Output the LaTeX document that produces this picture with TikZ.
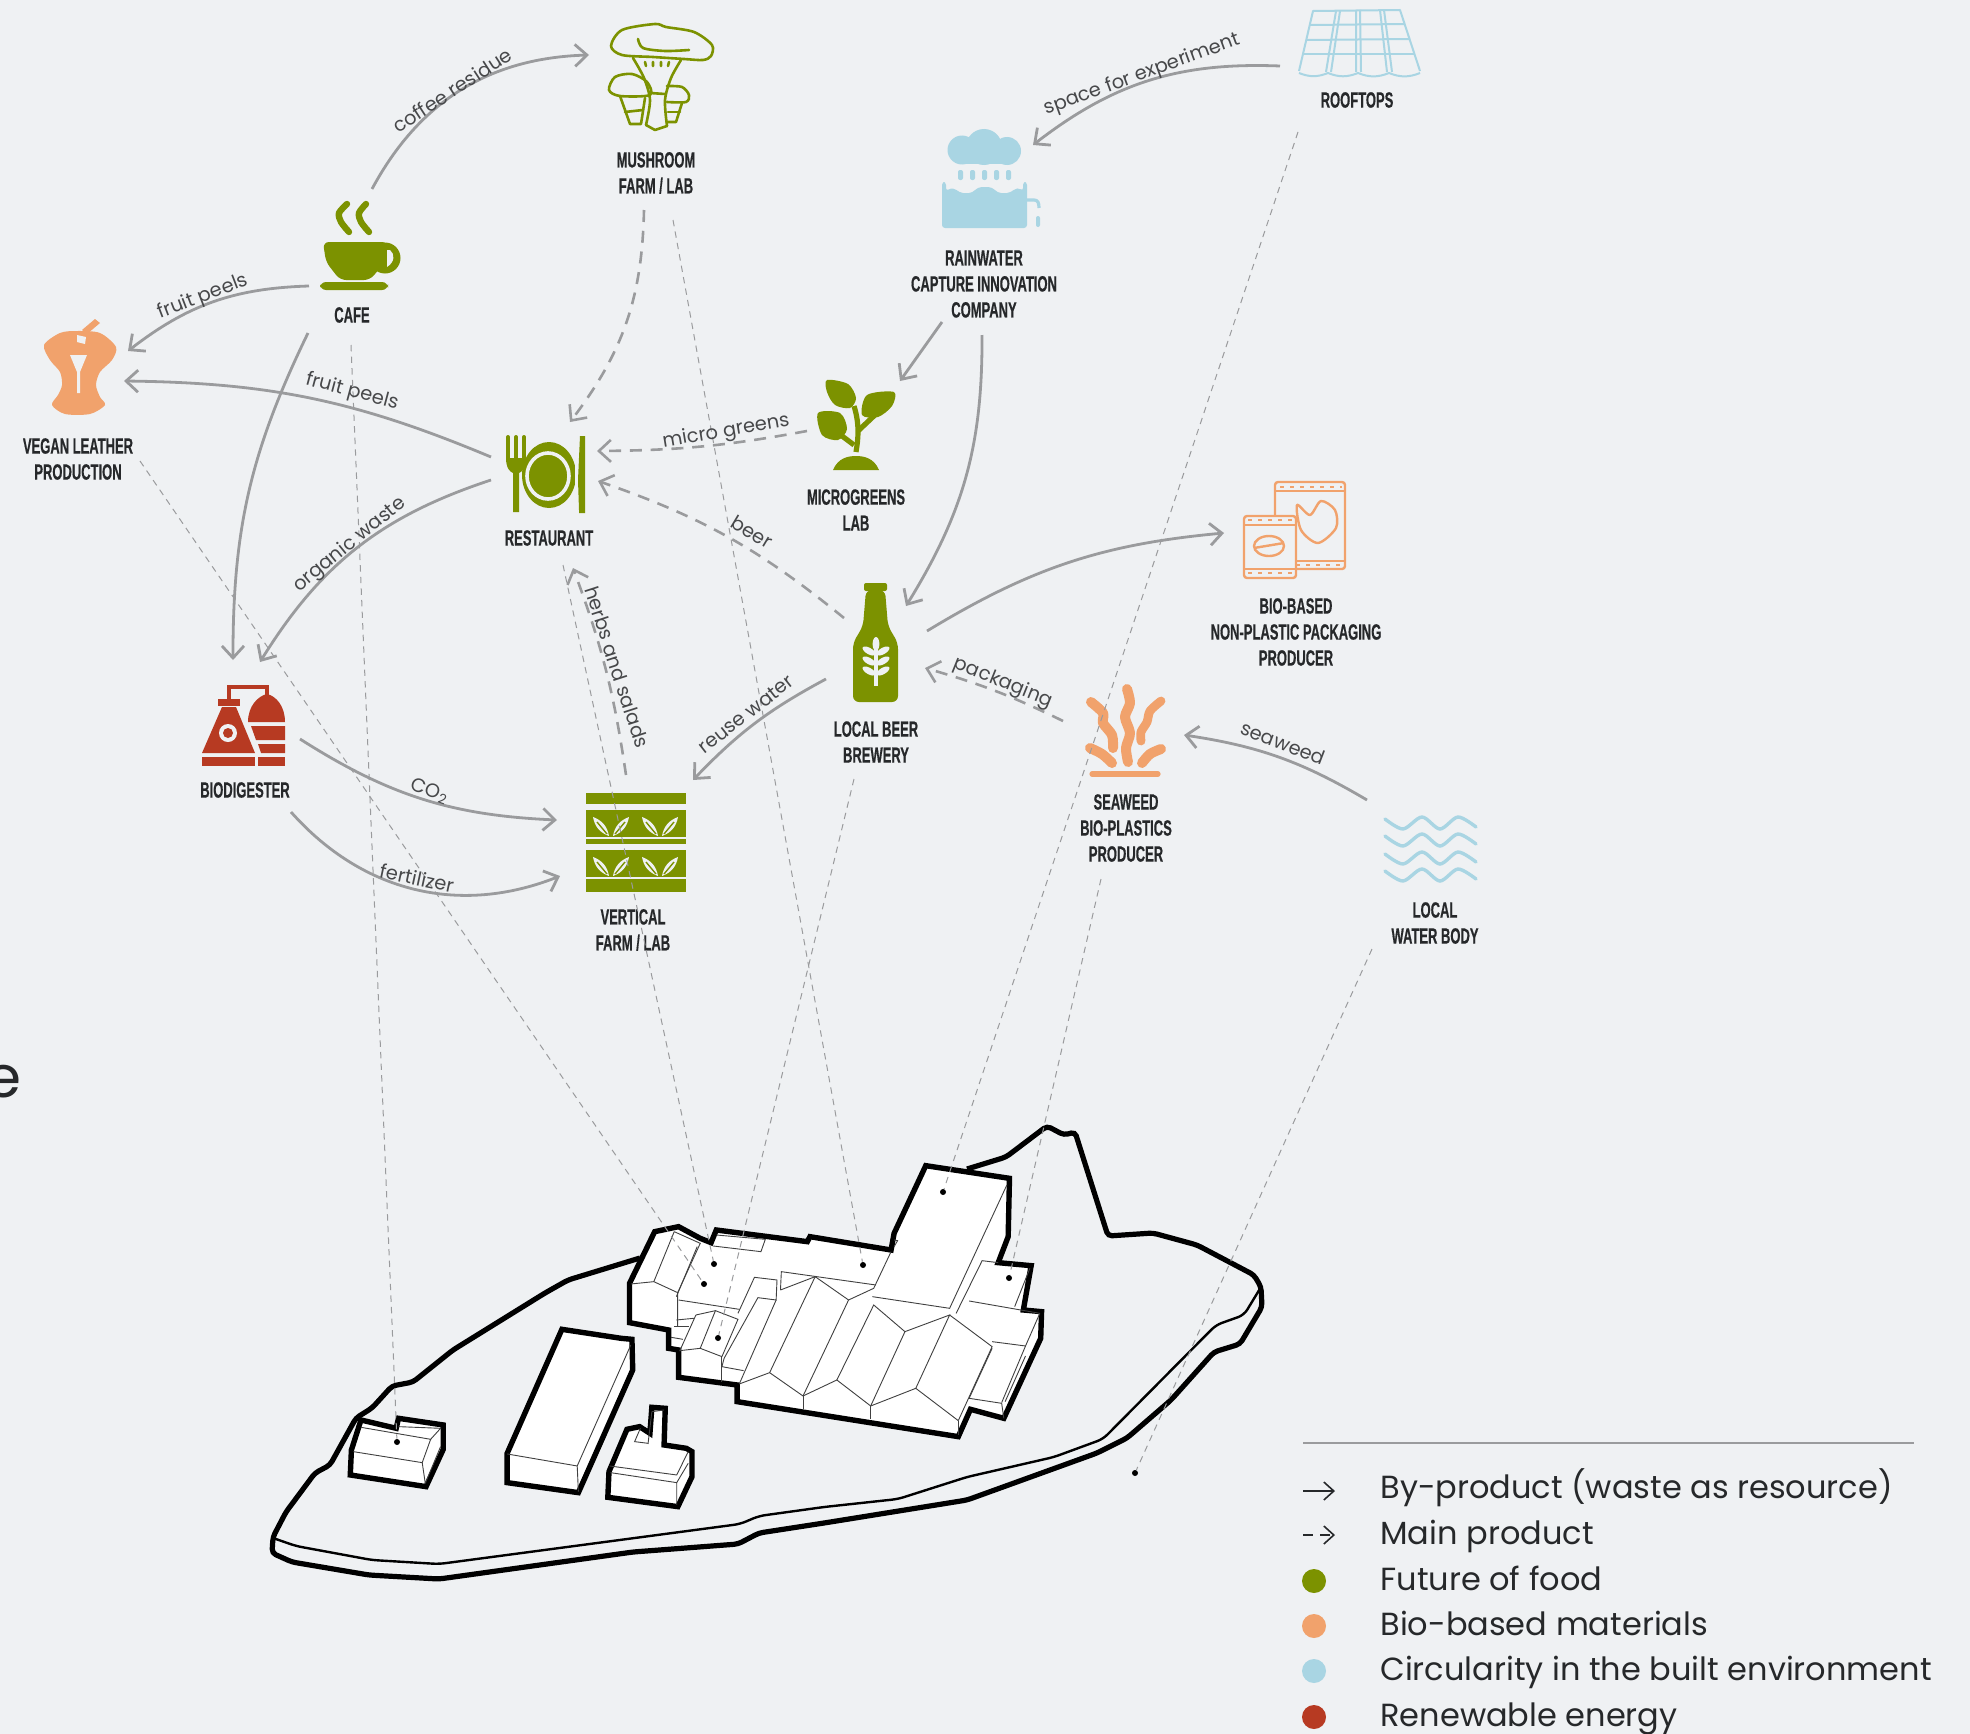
\documentclass[tikz,border=0pt]{standalone}
\usepackage{fontspec}
\setmainfont{Poppins}
\newfontfamily\capfont[FakeStretch=0.59,FakeBold=0.5]{Liberation Sans}
\usetikzlibrary{arrows.meta,positioning}
\definecolor{pagebg}{HTML}{EFF1F3}
\definecolor{foodgreen}{HTML}{7C9200}
\definecolor{bioorange}{HTML}{F1A26C}
\definecolor{builtblue}{HTML}{A9D5E3}
\definecolor{energyred}{HTML}{B73A22}
\definecolor{flowgray}{HTML}{9A9B9D}
\definecolor{inkdark}{HTML}{26282A}
\tikzset{
  caption/.style={font=\capfont\bfseries\fontsize{11}{13}\selectfont, text=inkdark, align=center, inner sep=0pt},
  flowtext/.style={font=\fontsize{9.7}{11}\selectfont, text=inkdark!85, inner sep=0pt},
  legendtext/.style={font=\fontsize{16}{18}\selectfont, text=inkdark, anchor=base west, inner sep=0pt},
  byproduct/.style={draw=flowgray, line width=1.4pt, -{Straight Barb[length=6pt,width=11pt]}},
  mainproduct/.style={draw=flowgray, line width=1.3pt, dash pattern=on 6pt off 4.4pt, -{Straight Barb[length=6pt,width=11pt,line width=1.3pt]}},
  sitelink/.style={draw=flowgray, line width=0.5pt, dash pattern=on 3.2pt off 2.6pt},
  pindot/.style={circle, fill=black, inner sep=0pt, minimum size=3pt},
  bldg/.style={draw=black, fill=white, line width=2.7pt, line join=miter},
  roofline/.style={draw=black!75, line width=0.45pt},
  swatch/.style={circle, inner sep=0pt, minimum size=12pt},
  outlinefood/.style={draw=foodgreen, line width=1.3pt, line join=round, line cap=round},
  outlinebio/.style={draw=bioorange, line width=1.2pt, line join=round},
  outlinebuilt/.style={draw=builtblue, line width=1pt, line join=round},
  frond/.style={draw=bioorange, line width=5pt, line cap=round, line join=round},
  waterline/.style={draw=builtblue, line width=1.7pt, line cap=round}
}
\newcommand{\farmleaf}[2]{%
  \fill[pagebg] (#1-2,#2) to[bend left=30] (#1-18,#2-19) to[bend left=30] cycle;
  \fill[pagebg] (#1+2,#2) to[bend right=30] (#1+18,#2-19) to[bend right=30] cycle;
  \draw[foodgreen, line width=0.7pt] (#1-4,#2-2) -- (#1-14,#2-14);
  \draw[foodgreen, line width=0.7pt] (#1+4,#2-2) -- (#1+14,#2-14);
}
\begin{document}
\begin{tikzpicture}[x=0.5pt,y=-0.5pt]
    \useasboundingbox (0,0) rectangle (1970,1734);
    \fill[pagebg] (0,0) rectangle (1970,1734);

    % Cropped word end on the left edge
    \node[anchor=base, inner sep=0pt, font=\fontsize{29}{34}\selectfont, text=inkdark] (cutword) at (3,1097) {e};

    % Island
    \draw[line width=2.6pt, rounded corners=2pt] (967,1169) -- (1006,1157) -- (1047,1126) -- (1064,1135) -- (1075,1132) -- (1108,1236) -- (1153,1233) -- (1197,1245) -- (1254,1275) -- (1261,1287) -- (1262,1307) -- (1240,1344) -- (1214,1352) -- (1171,1400) -- (1127,1438) -- (1097,1453) -- (967,1500) -- (824,1523) -- (759,1533) -- (738,1544) -- (633,1552) -- (439,1579) -- (369,1575) -- (292,1562) -- (272,1553) -- (273,1537) -- (286,1512) -- (315,1473) -- (330,1465) -- (356,1418) -- (372,1408) -- (392,1386) -- (413,1382) -- (453,1350) -- (545,1293) -- (568,1280) -- (640,1258);
    \draw[line width=1.2pt, rounded corners=3pt] (273,1538) -- (296,1546) -- (372,1560) -- (439,1564) -- (740,1524) -- (759,1516) -- (824,1507) -- (898,1499) -- (967,1477) -- (1054,1457) -- (1103,1439) -- (1216,1325) -- (1244,1315) -- (1261,1287);

    % Main complex
    \begin{scope}[shift={(620,1100)},xscale=0.4337,yscale=0.3333]
        \draw[bldg] (80,395) -- (135,380) -- (185,415) -- (210,428) -- (222,390) -- (432,425) -- (438,410) -- (625,450) -- (632,400) -- (705,197) -- (898,235) -- (895,410) -- (872,488) -- (948,497) -- (930,630) -- (972,635) -- (970,715) -- (885,955) -- (808,928) -- (780,1010) -- (270,905) -- (270,855) -- (135,832) -- (135,750) -- (112,745) -- (112,690) -- (22,668) -- (22,550) -- cycle;
        % left wing
        \draw[roofline] (125,395) -- (78,545) -- (25,552);
        \draw[roofline] (78,545) -- (133,578) -- (133,680);
        \draw[roofline] (125,395) -- (185,430) -- (133,578);
        \draw[roofline] (178,440) -- (130,590);
        \draw[roofline] (222,405) -- (335,418) -- (325,455) -- (215,438);
        \draw[roofline] (135,600) -- (275,628);
        % small gable
        \draw[roofline] (175,645) -- (220,632) -- (272,658) -- (235,770) -- (185,745) -- (138,752) -- (175,645);
        \draw[roofline] (220,632) -- (185,745);
        \draw[roofline] (235,770) -- (235,845);
        \draw[roofline] (130,660) -- (170,655);
        \draw[roofline] (125,680) -- (160,680);
        \draw[roofline] (118,712) -- (145,718);
        % middle bar
        \draw[roofline] (272,640) -- (310,532) -- (362,540) -- (360,600) -- (318,593) -- (240,775) -- (235,800) -- (285,812);
        \draw[roofline] (360,600) -- (275,852);
        % gables
        \draw[roofline] (275,852) -- (345,818) -- (422,888) -- (500,840) -- (578,918) -- (682,865) -- (780,962);
        \draw[roofline] (422,888) -- (422,928);
        \draw[roofline] (578,918) -- (578,958);
        \draw[roofline] (780,962) -- (780,1005);
        \draw[roofline] (345,818) -- (450,530) -- (527,600) -- (422,888);
        \draw[roofline] (527,600) -- (585,565) -- (625,455);
        \draw[roofline] (500,840) -- (585,615) -- (657,695) -- (578,918);
        \draw[roofline] (657,695) -- (760,645) -- (682,865);
        \draw[roofline] (760,645) -- (858,740) -- (780,962);
        \draw[roofline] (370,570) -- (372,515) -- (590,555);
        \draw[roofline] (370,570) -- (450,530);
        \draw[roofline] (582,590) -- (760,625) -- (892,255);
        \draw[roofline] (775,640) -- (835,482) -- (872,488);
        \draw[roofline] (945,505) -- (910,620);
        \draw[roofline] (805,603) -- (968,640);
        \draw[roofline] (858,725) -- (935,738) -- (968,640);
        \draw[roofline] (935,738) -- (880,908);
        \draw[roofline] (858,745) -- (805,895) -- (880,910) -- (885,955);
        \draw[roofline] (935,768) -- (888,905);
        \draw[roofline] (632,420) -- (640,422) -- (632,440);
    \end{scope}

    % Outbuildings
    \begin{scope}[shift={(250,1100)},xscale=0.3827,yscale=0.3333]
        \draw[bldg] (290,960) -- (382,985) -- (388,955) -- (505,975) -- (505,1048) -- (460,1160) -- (262,1125) -- (265,1050) -- cycle;
        \draw[roofline] (270,1055) -- (450,1088) -- (458,1150);
        \draw[roofline] (450,1088) -- (472,1018) -- (290,982);
        \draw[roofline] (472,1018) -- (498,985) -- (388,980);
        \draw[roofline] (498,1040) -- (458,1150);
        \draw[bldg] (815,688) -- (970,715) -- (998,718) -- (1000,810) -- (858,1178) -- (672,1148) -- (672,1060) -- cycle;
        \draw[roofline] (672,1062) -- (855,1098) -- (858,1175);
        \draw[roofline] (855,1098) -- (995,735);
        \draw[bldg] (985,988) -- (1018,980) -- (1045,1000) -- (1050,922) -- (1085,925) -- (1082,1035) -- (1140,1045) -- (1155,1055) -- (1155,1130) -- (1118,1220) -- (935,1192) -- (938,1115) -- cycle;
        \draw[roofline] (940,1098) -- (1115,1125) -- (1145,1055);
        \draw[roofline] (942,1118) -- (1115,1148) -- (1115,1215);
        \draw[roofline] (1145,1090) -- (1115,1148);
        \draw[roofline] (1020,985) -- (1005,1025) -- (1040,1030);
        \draw[roofline] (1050,935) -- (1082,930);
        \draw[roofline] (1050,935) -- (1040,1032);
    \end{scope}

    % Mushroom farm icon
    \draw[outlinefood] plot[smooth cycle] coordinates {(611,46) (622,30) (655,24) (666,27) (694,32) (712,45) (711,56) (703,60) (684,59) (653,57) (622,55)};
    \draw[outlinefood] plot[smooth] coordinates {(638,39) (643,48) (665,51) (689,50)};
    \draw[outlinefood] plot[smooth] coordinates {(633,58) (644,78) (650,100) (646,125)};
    \draw[outlinefood] plot[smooth] coordinates {(681,60) (671,78) (665,100) (667,126)};
    \draw[outlinefood] (646,125) -- (655,130) -- (667,126);
    \draw[outlinefood] plot[smooth cycle] coordinates {(609,90) (615,77) (632,74) (647,82) (650,95) (620,96)};
    \draw[outlinefood] (620,96) -- (630,124) -- (641,124) -- (645,98);
    \draw[outlinefood] (625,112) -- (643,110);
    \draw[outlinefood] plot[smooth] coordinates {(667,86) (682,87) (689,95) (686,102) (667,102)};
    \draw[outlinefood] (682,103) -- (676,122) -- (667,122);
    \draw[outlinefood] (668,112) -- (680,112);
    \draw[outlinefood] (645,62) -- (646,66) (653,62) -- (653,66) (661,62) -- (661,66) (669,62) -- (668,66);
    \draw[outlinefood] (650,93) -- (665,94);

    % Cafe icon
    \draw[foodgreen, line width=3.2pt, line cap=round] plot[smooth] coordinates {(347,204) (339,213) (341,222) (349,232)};
    \draw[foodgreen, line width=3.2pt, line cap=round] plot[smooth] coordinates {(366,204) (359,213) (361,222) (369,232)};
    \fill[foodgreen, rounded corners=3pt] (323,242) -- (388,242) -- (385,262) -- (370,280) -- (340,280) -- (326,262) -- cycle;
    \fill[foodgreen] (385,258) circle (15.5);
    \fill[pagebg] (387,250) -- (390,250) .. controls (395,254) and (395,262) .. (387,267) -- cycle;
    \fill[foodgreen, rounded corners=3pt] (320,282) rectangle (388,290);

    % Vegan leather icon
    \fill[bioorange] plot[smooth cycle] coordinates {(44,345) (60,333) (77,331) (100,333) (116,347) (112,360) (100,372) (96,385) (100,397) (105,405) (90,414) (65,414) (52,405) (58,395) (62,385) (60,372) (50,360)};
    \fill[bioorange] (82,330) -- (95,319) -- (100,323) -- (87,334) -- cycle;
    \fill[pagebg] (77,335) -- (86,337) -- (85,344) -- (77,342) -- cycle;
    \fill[pagebg] (70,355) -- (87,355) -- (80,372) -- (80,393) -- (77,393) -- (77,372) -- cycle;

    % Restaurant icon
    \fill[foodgreen] (549,475) ellipse [x radius=27, y radius=33];
    \draw[pagebg, line width=1.8pt] (548,476) ellipse [x radius=21, y radius=23];
    \draw[foodgreen, line width=2pt, line cap=round] (508,437) -- (508,460) (516,437) -- (516,460) (524,437) -- (524,460);
    \fill[foodgreen] (506,458) -- (526,458) .. controls (526,468) and (522,472) .. (519,473) -- (519,512) -- (513,512) -- (513,473) .. controls (510,472) and (506,468) .. cycle;
    \fill[pagebg] (575,435) rectangle (578,514);
    \fill[foodgreen] (579,510) -- (578,480) -- (580,436) -- (585,436) -- (585,513) -- (579,513) -- cycle;

    % Rainwater icon
    \fill[builtblue] (962,150) circle (14.5);
    \fill[builtblue] (984,147) circle (18);
    \fill[builtblue] (1007,151) circle (14);
    \fill[builtblue] (962,152) rectangle (1007,164);
    \fill[builtblue, rounded corners=1pt] (958,170) rectangle (963,180);
    \fill[builtblue, rounded corners=1pt] (970,170) rectangle (975,180);
    \fill[builtblue, rounded corners=1pt] (982,170) rectangle (987,180);
    \fill[builtblue, rounded corners=1pt] (994,170) rectangle (999,180);
    \fill[builtblue, rounded corners=1pt] (1006,170) rectangle (1011,180);
    \fill[builtblue, rounded corners=1.5pt] (942,182) -- (946,182) -- (946,191) .. controls (955,186) and (958,193) .. (966,193) .. controls (974,193) and (976,187) .. (985,187) .. controls (994,187) and (996,193) .. (1004,193) .. controls (1012,193) and (1016,186) .. (1023,191) -- (1023,182) -- (1027,182) -- (1027,228) -- (942,228) -- cycle;
    \draw[builtblue, line width=1.6pt] (1027,200) -- (1034,200) .. controls (1038,200) and (1039,203) .. (1039,208);
    \fill[builtblue, rounded corners=1pt] (1036,216) rectangle (1040,227);

    % Rooftops icon
    \draw[outlinebuilt] (1299,71) -- (1313,11) -- (1400,10) -- (1420,71);
    \draw[outlinebuilt] (1299,73) to[bend right=22] (1328,73) to[bend right=22] (1358,73) to[bend right=22] (1389,73) to[bend right=22] (1420,73);
    \draw[outlinebuilt] (1336,11) -- (1326,72) (1340,11) -- (1331,72);
    \draw[outlinebuilt] (1356,10) -- (1356,72) (1360,10) -- (1361,72);
    \draw[outlinebuilt] (1380,10) -- (1387,72) (1384,10) -- (1392,72);
    \draw[outlinebuilt] (1310,25) -- (1405,24);
    \draw[outlinebuilt] (1306,40) -- (1410,39);
    \draw[outlinebuilt] (1303,54) -- (1415,54);

    % Microgreens icon
    \fill[foodgreen] plot[smooth cycle] coordinates {(827,380) (848,384) (856,398) (850,408) (835,405) (827,392)};
    \fill[foodgreen] plot[smooth cycle] coordinates {(894,392) (867,395) (862,415) (878,417) (892,406)};
    \fill[foodgreen] plot[smooth cycle] coordinates {(818,413) (840,413) (847,429) (838,440) (822,435)};
    \draw[foodgreen, line width=2.6pt] (854,406) .. controls (860,425) and (858,440) .. (856,452);
    \draw[foodgreen, line width=2.6pt] (858,431) -- (876,414);
    \draw[foodgreen, line width=2.6pt] (854,445) -- (838,433);
    \fill[foodgreen] (833,470) .. controls (838,458) and (848,456) .. (856,456) .. controls (864,456) and (874,458) .. (879,470) -- cycle;

    % Packaging icon
    \draw[outlinebio, rounded corners=1.5pt] (1275,482) rectangle (1345,569);
    \draw[outlinebio] (1275,491) -- (1345,491) (1275,561) -- (1345,561);
    \draw[outlinebio, line width=0.7pt, dash pattern=on 2pt off 3pt] (1280,487) -- (1342,487) (1296,565) -- (1342,565);
    \fill[pagebg] (1244,516) rectangle (1296,578);
    \draw[outlinebio, rounded corners=1.5pt] (1244,516) rectangle (1296,578);
    \draw[outlinebio] (1244,525) -- (1296,525) (1244,569) -- (1296,569);
    \draw[outlinebio, line width=0.7pt, dash pattern=on 2pt off 3pt] (1248,520) -- (1293,520) (1248,573) -- (1293,573);
    \draw[outlinebio] plot[smooth cycle] coordinates {(1297,505) (1310,515) (1321,501) (1335,510) (1336,528) (1318,543) (1301,530)};
    \draw[outlinebio] (1269,546) ellipse [x radius=15, y radius=10];
    \draw[outlinebio] (1254,548) -- (1284,543);

    % Bottle icon
    \fill[foodgreen, rounded corners=1pt] (864,583) rectangle (887,591);
    \fill[foodgreen, rounded corners=3pt] (866,590) -- (885,590) -- (888,626) -- (898,643) -- (898,702) -- (853,702) -- (853,643) -- (863,626) -- cycle;
    \draw[pagebg, line width=1.8pt] (876,645) -- (876,686);
    \fill[pagebg] (876,644) ellipse [x radius=3.4, y radius=7];
    \fill[pagebg, rotate around={-30:(869,651)}] (869,651) ellipse [x radius=7.2, y radius=3.2];
    \fill[pagebg, rotate around={30:(883,651)}] (883,651) ellipse [x radius=7.2, y radius=3.2];
    \fill[pagebg, rotate around={-30:(869,661)}] (869,661) ellipse [x radius=7.2, y radius=3.2];
    \fill[pagebg, rotate around={30:(883,661)}] (883,661) ellipse [x radius=7.2, y radius=3.2];
    \fill[pagebg, rotate around={-30:(869,671)}] (869,671) ellipse [x radius=7.2, y radius=3.2];
    \fill[pagebg, rotate around={30:(883,671)}] (883,671) ellipse [x radius=7.2, y radius=3.2];

    % Seaweed icon
    \draw[frond] plot[smooth] coordinates {(1127,689) (1130,703) (1125,717) (1130,733) (1126,748) (1128,762)};
    \draw[frond] plot[smooth] coordinates {(1091,702) (1103,713) (1103,723) (1112,735) (1113,748)};
    \draw[frond, line width=4.4pt] plot[smooth] coordinates {(1161,701) (1150,711) (1147,722) (1141,732) (1141,741)};
    \draw[frond] plot[smooth] coordinates {(1090,748) (1102,754) (1112,763)};
    \draw[frond] plot[smooth] coordinates {(1161,749) (1150,754) (1142,763)};
    \draw[bioorange, line width=2.6pt, line cap=round] (1092,774) -- (1158,774);

    % Water body icon
    \draw[waterline] plot[smooth] coordinates {(1385,819) (1403,829) (1422,817) (1440,829) (1458,817) (1476,827)};
    \draw[waterline] plot[smooth] coordinates {(1385,836) (1403,846) (1422,834) (1440,846) (1458,834) (1476,844)};
    \draw[waterline] plot[smooth] coordinates {(1385,854) (1403,864) (1422,852) (1440,864) (1458,852) (1476,862)};
    \draw[waterline] plot[smooth] coordinates {(1385,871) (1403,881) (1422,869) (1440,881) (1458,869) (1476,879)};

    % Biodigester icon
    \fill[energyred] (202,757) rectangle (255,766);
    \fill[energyred] (222,707) -- (236,707) -- (255,753) -- (202,753) -- cycle;
    \fill[energyred] (218,699) rectangle (240,706);
    \draw[energyred, line width=2pt] (229,699) -- (229,687) -- (267,687) -- (267,695);
    \fill[pagebg] (228,733) circle (9);
    \fill[energyred] (228,733) circle (5);
    \fill[energyred] (248,722) .. controls (248,706) and (258,696) .. (267,694) .. controls (276,696) and (285,706) .. (285,722) -- cycle;
    \fill[energyred] (251,726) -- (285,726) -- (285,740) -- (256,740) -- cycle;
    \fill[energyred] (258,744) -- (285,744) -- (285,753) -- (261,753) -- cycle;
    \fill[energyred] (258,757) rectangle (285,766);

    % Vertical farm icon
    \fill[foodgreen] (586,793) rectangle (686,804);
    \fill[foodgreen] (586,810) rectangle (686,837);
    \fill[foodgreen] (586,839) rectangle (686,844);
    \fill[foodgreen] (586,850) rectangle (686,877);
    \fill[foodgreen] (586,879) rectangle (686,892);
    \farmleaf{611}{836}
    \farmleaf{660}{836}
    \farmleaf{611}{876}
    \farmleaf{660}{876}

    % Captions
    \node[caption] (mushroom) at (656,173) {MUSHROOM\\FARM / LAB};
    \node[caption] (cafe) at (352,315) {CAFE};
    \node[caption] (vegan) at (78,459) {VEGAN LEATHER\\PRODUCTION};
    \node[caption] (restaurant) at (549,538) {RESTAURANT};
    \node[caption] (rainwater) at (984,284) {RAINWATER\\CAPTURE INNOVATION\\COMPANY};
    \node[caption] (rooftops) at (1357,100) {ROOFTOPS};
    \node[caption] (microgreens) at (856,510) {MICROGREENS\\LAB};
    \node[caption] (packager) at (1296,632) {BIO-BASED\\NON-PLASTIC PACKAGING\\PRODUCER};
    \node[caption] (brewery) at (876,742) {LOCAL BEER\\BREWERY};
    \node[caption] (seaweedbio) at (1126,828) {SEAWEED\\BIO-PLASTICS\\PRODUCER};
    \node[caption] (waterbody) at (1435,923) {LOCAL\\WATER BODY};
    \node[caption] (biodigester) at (245,790) {BIODIGESTER};
    \node[caption] (verticalfarm) at (633,930) {VERTICAL\\FARM / LAB};

    % Pins on the site
    \node[pindot] (pinvegan) at (704,1284) {};
    \node[pindot] (pincafe) at (397,1442) {};
    \node[pindot] (pinmushroom) at (863,1265) {};
    \node[pindot] (pinrestaurant) at (714,1264) {};
    \node[pindot] (pinbrewery) at (718,1338) {};
    \node[pindot] (pinrooftops) at (943,1192) {};
    \node[pindot] (pinseaweed) at (1009,1278) {};
    \node[pindot] (pinwater) at (1135,1473) {};

    % Links down to the site
    \draw[sitelink] ([shift={(62,2)}]vegan.center) -- (pinvegan);
    \draw[sitelink] ([shift={(-1,30)}]cafe.center) -- (pincafe);
    \draw[sitelink] ([shift={(17,47)}]mushroom.center) -- (pinmushroom);
    \draw[sitelink] ([shift={(14,27)}]restaurant.center) -- (pinrestaurant);
    \draw[sitelink] ([shift={(-22,37)}]brewery.center) -- (pinbrewery);
    \draw[sitelink] ([shift={(-59,32)}]rooftops.center) -- (pinrooftops);
    \draw[sitelink] ([shift={(-25,51)}]seaweedbio.center) -- (pinseaweed);
    \draw[sitelink] ([shift={(-63,26)}]waterbody.center) -- (pinwater);

    % By-products
    \draw[byproduct] ([shift={(20,-126)}]cafe.center) to[bend left=30] ([shift={(-67,-118)}]mushroom.center);
    \draw[byproduct] ([shift={(-43,-29)}]cafe.center) to[bend right=18] ([shift={(50,-108)}]vegan.center);
    \draw[byproduct] ([shift={(-58,-81)}]restaurant.center) to[bend right=11] ([shift={(46,-78)}]vegan.center);
    \draw[byproduct] ([shift={(-58,-58)}]restaurant.center) to[bend right=20] ([shift={(15,-128)}]biodigester.center);
    \draw[byproduct] ([shift={(-44,18)}]cafe.center) to[bend right=13] ([shift={(-12,-130)}]biodigester.center);
    \draw[byproduct] ([shift={(-42,38)}]rainwater.center) -- ([shift={(44,-129)}]microgreens.center);
    \draw[byproduct] ([shift={(-2,51)}]rainwater.center) to[bend left=16] ([shift={(30,-136)}]brewery.center);
    \draw[byproduct] ([shift={(-77,-34)}]rooftops.center) to[bend right=20] ([shift={(49,-139)}]rainwater.center);
    \draw[byproduct] ([shift={(51,-111)}]brewery.center) to[bend left=13] ([shift={(-72,-99)}]packager.center);
    \draw[byproduct] ([shift={(-68,-123)}]waterbody.center) to[bend right=11] ([shift={(58,-93)}]seaweedbio.center);
    \draw[byproduct] ([shift={(-50,-63)}]brewery.center) to[bend right=9] ([shift={(60,-150)}]verticalfarm.center);
    \draw[byproduct] ([shift={(55,-51)}]biodigester.center) to[bend right=15] ([shift={(-76,-110)}]verticalfarm.center);
    \draw[byproduct] ([shift={(46,22)}]biodigester.center) to[bend right=35] ([shift={(-73,-54)}]verticalfarm.center);

    % Main products
    \draw[mainproduct] ([shift={(-12,37)}]mushroom.center) to[bend left=18] ([shift={(21,-116)}]restaurant.center);
    \draw[mainproduct] ([shift={(-49,-79)}]microgreens.center) to[bend left=5] ([shift={(48,-87)}]restaurant.center);
    \draw[mainproduct] ([shift={(-32,-124)}]brewery.center) to[bend right=10] ([shift={(49,-57)}]restaurant.center);
    \draw[mainproduct] ([shift={(-7,-155)}]verticalfarm.center) to[bend right=6] ([shift={(24,30)}]restaurant.center);
    \draw[mainproduct] ([shift={(-63,-107)}]seaweedbio.center) to[bend right=5] ([shift={(49,-74)}]brewery.center);

    % Flow labels
    \node[flowtext, rotate=33] (tcoffee) at (452,90) {coffee residue};
    \node[flowtext, rotate=21] (tpeelsa) at (203,297) {fruit peels};
    \node[flowtext, rotate=-15] (tpeelsb) at (352,392) {fruit peels};
    \node[flowtext, rotate=39] (torganic) at (350,545) {organic waste};
    \node[flowtext, rotate=9.5] (tgreens) at (726,432) {micro greens};
    \node[flowtext, rotate=-31] (tbeer) at (752,532) {beer};
    \node[flowtext, rotate=-72] (therbs) at (617,667) {herbs and salads};
    \node[flowtext, rotate=38] (treuse) at (746,714) {reuse water};
    \node[flowtext, rotate=-22] (tpack) at (1003,683) {packaging};
    \node[flowtext, rotate=-21] (tweed) at (1283,743) {seaweed};
    \node[flowtext, rotate=-20] (tcotwo) at (430,791) {CO\textsubscript{2}};
    \node[flowtext, rotate=-12] (tfert) at (417,878) {fertilizer};
    \node[flowtext, rotate=20] (tspace) at (1142,75) {space for experiment};

    % Legend
    \coordinate (rulea) at (1303,1443);
    \coordinate (ruleb) at (1914,1443);
    \draw[flowgray, line width=1pt] (rulea) -- (ruleb);
    \coordinate (byproa) at (1303,1491);
    \coordinate (byprob) at (1335,1491);
    \draw[draw=inkdark, line width=0.8pt, -{Straight Barb[length=5pt,width=9pt]}] (byproa) -- (byprob);
    \coordinate (mainpa) at (1303,1535);
    \coordinate (mainpb) at (1335,1535);
    \draw[draw=inkdark, line width=0.8pt, dash pattern=on 5pt off 3.5pt, -{Straight Barb[length=5pt,width=9pt]}] (mainpa) -- (mainpb);
    \node[swatch, fill=foodgreen] (swfood) at (1314,1581) {};
    \node[swatch, fill=bioorange] (swbio) at (1314,1626) {};
    \node[swatch, fill=builtblue] (swbuilt) at (1314,1671) {};
    \node[swatch, fill=energyred] (swenergy) at (1314,1717) {};
    \node[legendtext] (lbypro) at (1380,1498) {By-product (waste as resource)};
    \node[legendtext] (lmain) at (1380,1544) {Main product};
    \node[legendtext] (lfood) at (1380,1590) {Future of food};
    \node[legendtext] (lbio) at (1380,1635) {Bio-based materials};
    \node[legendtext] (lbuilt) at (1380,1680) {Circularity in the built environment};
    \node[legendtext] (lenergy) at (1380,1726) {Renewable energy};
\end{tikzpicture}
\end{document}
